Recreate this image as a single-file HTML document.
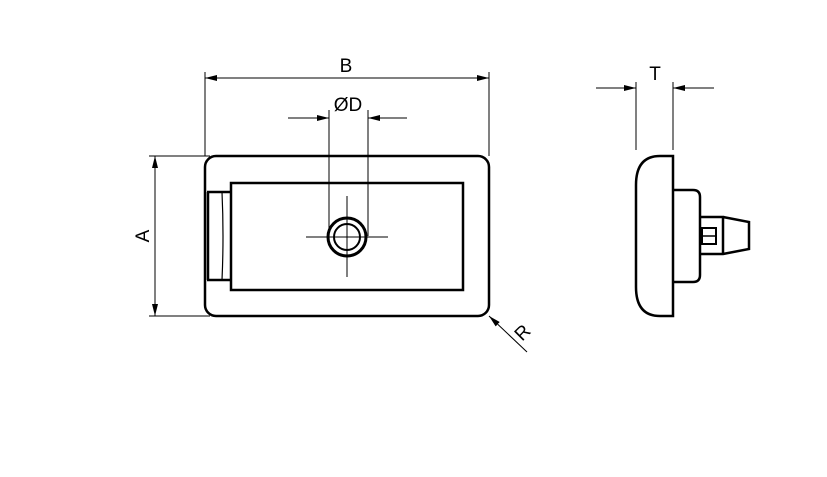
<!DOCTYPE html><html><head><style>body{margin:0;background:#fff}</style></head><body>
<svg width="827" height="472" viewBox="0 0 827 472" xmlns="http://www.w3.org/2000/svg" font-family="Liberation Sans, sans-serif">
<defs><marker id="a" viewBox="0 0 12 6" refX="12" refY="3" markerWidth="12" markerHeight="6" orient="auto-start-reverse" markerUnits="userSpaceOnUse"><path d="M0,0L12,3L0,6z" fill="#000"/></marker></defs>
<g stroke="#000" fill="none" stroke-width="1">
<line x1="205" y1="72" x2="205" y2="156"/><line x1="489" y1="72" x2="489" y2="156"/>
<line x1="205" y1="78" x2="489" y2="78" marker-start="url(#a)" marker-end="url(#a)"/>
<line x1="329" y1="110" x2="329" y2="236"/><line x1="368" y1="110" x2="368" y2="236"/>
<line x1="288" y1="118" x2="329" y2="118" marker-end="url(#a)"/><line x1="407" y1="118" x2="368" y2="118" marker-end="url(#a)"/>
<line x1="149" y1="156" x2="210" y2="156"/><line x1="149" y1="316" x2="210" y2="316"/>
<line x1="155" y1="156" x2="155" y2="316" marker-start="url(#a)" marker-end="url(#a)"/>
<line x1="527" y1="352" x2="489" y2="316" marker-end="url(#a)"/>
<line x1="306" y1="237" x2="388" y2="237"/><line x1="347" y1="196" x2="347" y2="277"/>
<line x1="636" y1="82" x2="636" y2="150"/><line x1="673" y1="82" x2="673" y2="150"/>
<line x1="596" y1="88" x2="636" y2="88" marker-end="url(#a)"/><line x1="714" y1="88" x2="673" y2="88" marker-end="url(#a)"/>
</g>
<g stroke="#000" fill="none" stroke-width="2.5">
<rect x="205" y="156" width="284" height="160" rx="11"/>
<rect x="231" y="183" width="232" height="107"/>
<path d="M207,192H231M207,280H231M208,192V280" />
<circle cx="347" cy="237" r="19" stroke-width="3"/>
<circle cx="347" cy="237" r="13" stroke-width="2"/>
<path d="M673,156H660Q636,156 636,185V287Q636,316 660,316H673Z"/>
<path d="M673,190H693Q700,190 700,197V275Q700,282 693,282H673"/>
<path d="M700,217H723V254H700M723,217L749,222V249L723,254"/>
</g>
<path d="M222,192Q224,236 222,280" stroke="#000" fill="none" stroke-width="1.2"/>
<rect x="702" y="228" width="14" height="16" stroke="#000" fill="none" stroke-width="2"/>
<line x1="702" y1="236" x2="716" y2="236" stroke="#000" stroke-width="1.5"/>
<g font-size="19" fill="#000" text-anchor="middle">
<text x="346" y="72">B</text>
<text x="348" y="111">ØD</text>
<text x="655" y="80">T</text>
<text transform="translate(149,236) rotate(-90)">A</text>
<text transform="translate(527,337) rotate(-45)">R</text>
</g>
</svg></body></html>
